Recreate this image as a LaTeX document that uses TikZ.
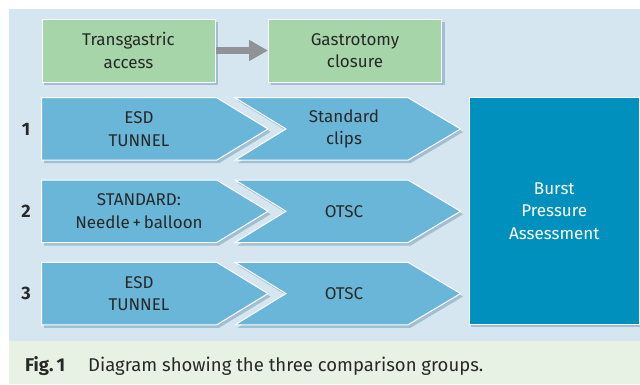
\documentclass[tikz,border=0pt]{standalone}
\usepackage{fontspec}
\setmainfont{Fira Sans}
\usetikzlibrary{arrows.meta}
\definecolor{panel}{RGB}{214,230,240}
\definecolor{capband}{RGB}{231,241,228}
\definecolor{greenfill}{RGB}{165,213,168}
\definecolor{chevfill}{RGB}{106,182,216}
\definecolor{burstfill}{RGB}{0,144,190}
\definecolor{arrowgray}{RGB}{143,146,150}
\definecolor{txt}{RGB}{40,40,40}
\definecolor{shadowc}{RGB}{160,192,210}
\tikzset{
  lbl/.style={align=center, text=txt, inner sep=0pt},
  greenbox/.style={draw=white, line width=1pt, fill=greenfill, align=center, text=txt,
    minimum width=173pt, minimum height=63pt, inner sep=0pt},
  chevron/.style={fill=chevfill, draw=white, line width=1pt, line join=miter},
  burstbox/.style={draw=white, line width=1pt, fill=burstfill, text=white, align=center,
    minimum width=170.5pt, minimum height=226.6pt, inner sep=0pt},
  rownum/.style={font=\fontsize{18}{20}\selectfont\bfseries, text=txt},
  capfont/.style={font=\fontsize{18.5}{20}\selectfont, text=txt, anchor=base west, inner sep=0pt}
}
\begin{document}
\begin{tikzpicture}[x=1pt,y=-1pt, font=\fontsize{17}{22.5}\selectfont]
\useasboundingbox (0,0) rectangle (640,384);
\fill[white] (0,0) rectangle (640,384);
\fill[panel] (9,9) rectangle (640,341);
\fill[capband] (9,341) rectangle (640,384);
% shadows of green boxes
\fill[shadowc] (44,22) rectangle (218,85);
\fill[shadowc] (270.5,22) rectangle (444.5,85);
% green boxes
\node[greenbox] (ta) at (128.5,50.5) {Transgastric\\access};
\node[greenbox] (gc) at (355,50.5) {Gastrotomy\\closure};
\draw[line width=7pt, arrowgray, -{Triangle[length=19pt,width=20pt]}] (ta.east) -- (gc.west);
% chevrons
\foreach \t in {97.7,180,262.3} {
  \fill[shadowc] (44,\t+3) -- (219,\t+3) -- (270.5,\t+34.25) -- (219,\t+65.5) -- (44,\t+65.5) -- cycle;
  \fill[shadowc] (237.5,\t+3) -- (410.5,\t+3) -- (463,\t+34.25) -- (410.5,\t+65.5) -- (237.5,\t+65.5) -- (288.5,\t+34.25) -- cycle;
  \draw[chevron] (41.7,\t) -- (216.7,\t) -- (268,\t+31.25) -- (216.7,\t+62.5) -- (41.7,\t+62.5) -- cycle;
  \draw[chevron] (235,\t) -- (408,\t) -- (460.5,\t+31.25) -- (408,\t+62.5) -- (235,\t+62.5) -- (286,\t+31.25) -- cycle;
}
% burst box
\fill[shadowc] (471,100.7) rectangle (640,327.3);
\node[burstbox] (bp) at (554.25,211) {Burst\\Pressure\\Assessment};
% labels
\node[lbl] (a1) at (139,129) {ESD\\TUNNEL};
\node[lbl] (b1) at (344,129) {Standard\\clips};
\node[lbl] (a2) at (139,211.25) {STANDARD:\\Needle\,+\,balloon};
\node[lbl] (b2) at (344,211.25) {OTSC};
\node[lbl] (a3) at (139,293.5) {ESD\\TUNNEL};
\node[lbl] (b3) at (344,293.5) {OTSC};
\node[rownum] (n1) at (26,129) {1};
\node[rownum] (n2) at (26,211.25) {2};
\node[rownum] (n3) at (26,293.5) {3};
% caption
\node[capfont, font=\fontsize{18.5}{20}\selectfont\bfseries] (fig) at (25,371) {Fig.\,1};
\node[capfont] (cap) at (88,371) {Diagram showing the three comparison groups.};
\end{tikzpicture}
\end{document}
